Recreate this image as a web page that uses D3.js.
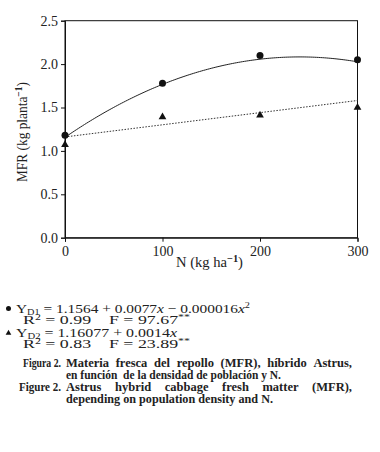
<!DOCTYPE html>
<html>
<head>
<meta charset="utf-8">
<script src="https://d3js.org/d3.v7.min.js"></script>
<style>
  body { margin: 0; background: #fff; }
  text { font-family: "Liberation Serif", "DejaVu Serif", "Times New Roman", serif; fill: #222; white-space: pre; }
</style>
</head>
<body>
<svg id="chart" width="380" height="452"></svg>
<script>
// data
const nDoses = [0, 100, 200, 300];
const mfrD1 = [1.18, 1.78, 2.10, 2.05];   // circles
const mfrD2 = [1.07, 1.39, 1.41, 1.50];   // triangles
const fitD1 = [1.1564, 0.0077, -0.000016]; // quadratic coefficients
const fitD2 = [1.16077, 0.0014];           // linear coefficients
const xTicks = [0, 100, 200, 300];
const yTicks = [0.0, 0.5, 1.0, 1.5, 2.0, 2.5];

const svg = d3.select("#chart");
const x = d3.scaleLinear().domain([0, 300]).range([65, 357.5]);
const y = d3.scaleLinear().domain([0, 2.5]).range([237.7, 20.7]);

// frame
svg.append("rect")
  .attr("x", x(0)).attr("y", y(2.5))
  .attr("width", x(300) - x(0)).attr("height", y(0) - y(2.5))
  .attr("fill", "none").attr("stroke", "#111").attr("stroke-width", 1);

// axes
const xAxis = svg.append("g").attr("transform", `translate(0,${y(0)})`)
  .call(d3.axisBottom(x).tickValues(xTicks).tickSize(4).tickPadding(4));
const yAxis = svg.append("g").attr("transform", `translate(${x(0)},0)`)
  .call(d3.axisLeft(y).tickValues(yTicks).tickSize(4).tickPadding(3).tickFormat(d3.format(".1f")));
[xAxis, yAxis].forEach(g => {
  g.attr("font-family", null);
  g.select(".domain").attr("stroke", "#111");
  g.selectAll(".tick line").attr("stroke", "#111");
  g.selectAll(".tick text").attr("font-size", 14).attr("fill", "#222");
});

// fitted curves
const xs = d3.range(0, 300.01, 2);
const line = d3.line().x(d => x(d[0])).y(d => y(d[1]));
svg.append("path")
  .datum(xs.map(v => [v, fitD1[0] + fitD1[1] * v + fitD1[2] * v * v]))
  .attr("d", line).attr("fill", "none").attr("stroke", "#222").attr("stroke-width", 1);
svg.append("path")
  .datum([0, 300].map(v => [v, fitD2[0] + fitD2[1] * v]))
  .attr("d", line).attr("fill", "none").attr("stroke", "#333")
  .attr("stroke-width", 1).attr("stroke-dasharray", "1.5,1.5");

// markers
svg.selectAll("circle.d1").data(nDoses).join("circle")
  .attr("class", "d1")
  .attr("cx", d => x(d)).attr("cy", (d, i) => y(mfrD1[i]))
  .attr("r", 3.5).attr("fill", "#111");
svg.selectAll("path.d2").data(nDoses).join("path")
  .attr("class", "d2")
  .attr("d", d3.symbol(d3.symbolTriangle, 26))
  .attr("transform", (d, i) => `translate(${x(d)},${y(mfrD2[i])})`)
  .attr("fill", "#111");

// axis titles
const yt = svg.append("text")
  .attr("transform", `translate(27,132) rotate(-90)`)
  .attr("text-anchor", "middle").attr("font-size", 14)
  .attr("textLength", 100).attr("lengthAdjust", "spacingAndGlyphs");
yt.append("tspan").text("MFR (kg planta");
yt.append("tspan").attr("dy", -5).attr("font-size", 10).attr("font-weight", "bold").text("\u22121");
yt.append("tspan").attr("dy", 5).text(")");

const xt = svg.append("text")
  .attr("x", 176).attr("y", 267).attr("font-size", 14)
  .attr("textLength", 67).attr("lengthAdjust", "spacingAndGlyphs");
xt.append("tspan").text("N (kg ha");
xt.append("tspan").attr("dy", -5).attr("font-size", 10).attr("font-weight", "bold").text("\u22121");
xt.append("tspan").attr("dy", 5).text(")");

// regression legend
function eqLine(yPos, xPos, width, parts) {
  const t = svg.append("text").attr("x", xPos).attr("y", yPos).attr("font-size", 13.5)
    .attr("textLength", width).attr("lengthAdjust", "spacingAndGlyphs");
  parts.forEach(p => {
    const s = t.append("tspan").text(p.t);
    if (p.dy) s.attr("dy", p.dy);
    if (p.fs) s.attr("font-size", p.fs);
    if (p.it) s.attr("font-style", "italic");
  });
  return t;
}
svg.append("circle").attr("cx", 8.5).attr("cy", 308.5).attr("r", 2.5).attr("fill", "#111");
eqLine(312.5, 16, 234, [{t: "Y"}, {t: "D1", dy: 2.5, fs: 9}, {t: " = 1.1564 + 0.0077", dy: -2.5}, {t: "x", it: 1},
  {t: " \u2212 0.000016"}, {t: "x", it: 1}, {t: "2", dy: -5, fs: 9}]);
eqLine(324, 23, 167, [{t: "R"}, {t: "2", dy: -4.5, fs: 9}, {t: " = 0.99    F = 97.67", dy: 4.5}, {t: "**", dy: -4, fs: 9}]);
svg.append("path").attr("d", d3.symbol(d3.symbolTriangle, 14))
  .attr("transform", "translate(8.5,333)").attr("fill", "#111");
eqLine(336.5, 16, 161, [{t: "Y"}, {t: "D2", dy: 2.5, fs: 9}, {t: " = 1.16077 + 0.0014", dy: -2.5}, {t: "x", it: 1}]);
eqLine(348, 23, 167, [{t: "R"}, {t: "2", dy: -4.5, fs: 9}, {t: " = 0.83    F = 23.89", dy: 4.5}, {t: "**", dy: -4, fs: 9}]);

// caption lines: start, end, and whether words are spread to the right edge
const captionLines = [
  {text: "Figura 2.", x0: 23, x1: 61, y: 367},
  {text: "Materia fresca del repollo (MFR), híbrido Astrus,", x0: 66, x1: 352, y: 367, justify: true},
  {text: "en función  de la densidad de población y N.", x0: 66, x1: 281, y: 379},
  {text: "Figure 2.", x0: 19, x1: 61, y: 391},
  {text: "Astrus hybrid cabbage fresh matter (MFR),", x0: 66, x1: 352, y: 391, justify: true},
  {text: "depending on population density and N.", x0: 66, x1: 273, y: 403}
];
const capFont = 12.5;
// word condensation taken from the Spanish justified line with ~4px spaces
const spanish = captionLines[1].text.split(" ");
const natural = spanish.map(w => {
  const p = svg.append("text").attr("font-size", capFont).attr("font-weight", "bold").text(w);
  const l = p.node().getComputedTextLength();
  p.remove();
  return l;
});
const k = Math.min(1, (352 - 66 - 4 * (spanish.length - 1)) / d3.sum(natural));

captionLines.forEach(c => {
  if (!c.justify) {
    svg.append("text").attr("x", c.x0).attr("y", c.y)
      .attr("font-size", capFont).attr("font-weight", "bold")
      .attr("textLength", c.x1 - c.x0).attr("lengthAdjust", "spacingAndGlyphs")
      .text(c.text);
    return;
  }
  const ws = c.text.split(" ").map(w => svg.append("text").attr("y", c.y)
    .attr("font-size", capFont).attr("font-weight", "bold").text(w));
  const lens = ws.map(w => w.node().getComputedTextLength() * k);
  const gap = (c.x1 - c.x0 - d3.sum(lens)) / (ws.length - 1);
  let cx = c.x0;
  ws.forEach((w, i) => {
    w.attr("x", cx).attr("textLength", lens[i]).attr("lengthAdjust", "spacingAndGlyphs");
    cx += lens[i] + gap;
  });
});
</script>
</body>
</html>
